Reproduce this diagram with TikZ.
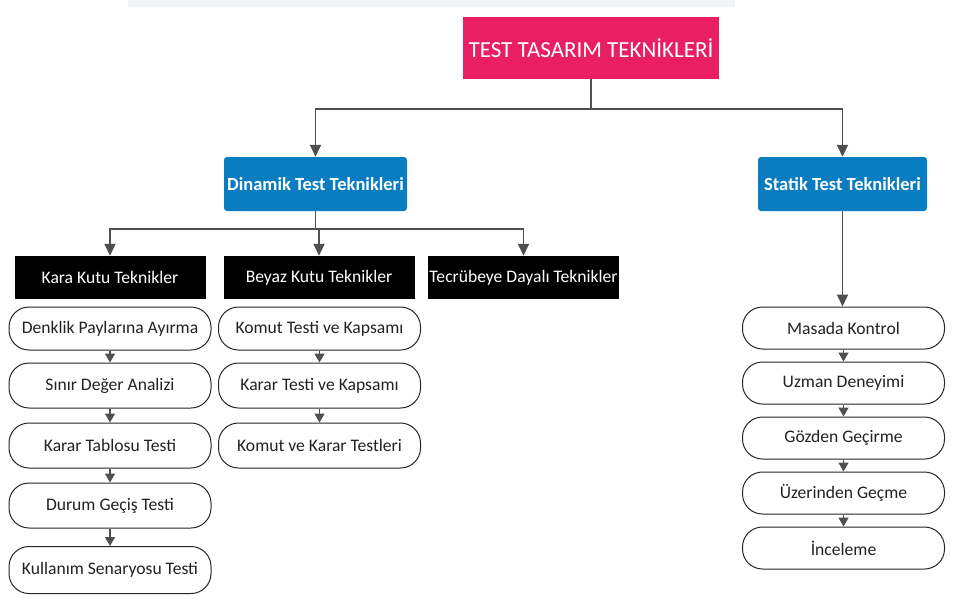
\documentclass[tikz,border=0pt]{standalone}
\usepackage{fontspec}
\setmainfont{Carlito}
\usetikzlibrary{arrows.meta}
\definecolor{rootpink}{HTML}{E91E63}
\definecolor{dynblue}{HTML}{0A7DC1}
\definecolor{linegray}{HTML}{4F4F4F}
\definecolor{topband}{HTML}{F1F4FB}
\definecolor{pilltext}{HTML}{222222}
\tikzset{
  rootbox/.style={rectangle, fill=rootpink, text=white, minimum width=256pt, minimum height=62pt, inner sep=0pt, font=\fontsize{23}{25}\selectfont},
  bluebox/.style={rectangle, rounded corners=3pt, fill=dynblue, text=white, minimum height=54pt, inner sep=0pt, font=\fontsize{18.5}{20}\selectfont\bfseries},
  blackbox/.style={rectangle, fill=black, text=white, minimum width=191pt, minimum height=43pt, inner sep=0pt, font=\fontsize{17.6}{19}\selectfont},
  pill/.style={rectangle, rounded corners=20pt, draw=black!85, line width=1pt, fill=white, text=pilltext, minimum width=202pt, minimum height=45pt, inner sep=0pt, font=\fontsize{17.6}{19}\selectfont},
  rpill/.style={pill, minimum height=42pt},
  arr/.style={draw=linegray, line width=1.6pt, -{Triangle[width=11pt,length=12pt]}},
  sarr/.style={draw=linegray, line width=1.4pt, -{Triangle[width=10pt,length=9pt]}}
}
\begin{document}
\begin{tikzpicture}[x=1pt,y=-1pt]
\useasboundingbox (0,0) rectangle (955,603);
\fill[topband] (128,0) rectangle (735,7);

\node[rootbox] (root) at (591,48) {TEST TASARIM TEKNİKLERİ};
\node[bluebox, minimum width=183pt] (din) at (315.5,184) {Dinamik Test Teknikleri};
\node[bluebox, minimum width=169pt] (stat) at (842.5,184) {Statik Test Teknikleri};

\node[blackbox] (kara) at (110,277.5) {Kara Kutu Teknikler};
\node[blackbox] (beyaz) at (319,277.5) {Beyaz Kutu Teknikler};
\node[blackbox] (tecr) at (523.5,277.5) {Tecrübeye Dayalı Teknikler};

\node[pill, minimum height=43pt] (k1) at (110,328.5) {Denklik Paylarına Ayırma};
\node[pill] (k2) at (110,385.5) {Sınır Değer Analizi};
\node[pill] (k3) at (110,445.5) {Karar Tablosu Testi};
\node[pill] (k4) at (110,505.5) {Durum Geçiş Testi};
\node[pill, minimum height=47pt] (k5) at (110,570) {Kullanım Senaryosu Testi};

\node[pill, minimum height=43pt] (b1) at (319.5,328.5) {Komut Testi ve Kapsamı};
\node[pill] (b2) at (319.5,385.5) {Karar Testi ve Kapsamı};
\node[pill] (b3) at (319.5,445.5) {Komut ve Karar Testleri};

\node[rpill] (s1) at (843.5,328) {Masada Kontrol};
\node[rpill] (s2) at (843.5,383) {Uzman Deneyimi};
\node[rpill] (s3) at (843.5,438) {Gözden Geçirme};
\node[rpill] (s4) at (843.5,493) {Üzerinden Geçme};
\node[rpill] (s5) at (843.5,548) {İnceleme};

\draw[arr] (root.south) -- ++(0,30) -| (din.north);
\draw[arr] (root.south) -- ++(0,30) -| (stat.north);

\draw[arr] (din.south) -- ++(0,18) -| (kara.north);
\draw[arr] (din.south) -- ++(0,18) -| (beyaz.north);
\draw[arr] (din.south) -- ++(0,18) -| (tecr.north);

\draw[arr] (stat.south) -- (stat.south |- s1.north);

\foreach \a/\b in {k1/k2,k2/k3,k3/k4,k4/k5,b1/b2,b2/b3,s1/s2,s2/s3,s3/s4,s4/s5}
  \draw[sarr] (\a.south) -- (\b.north);
\end{tikzpicture}
\end{document}
